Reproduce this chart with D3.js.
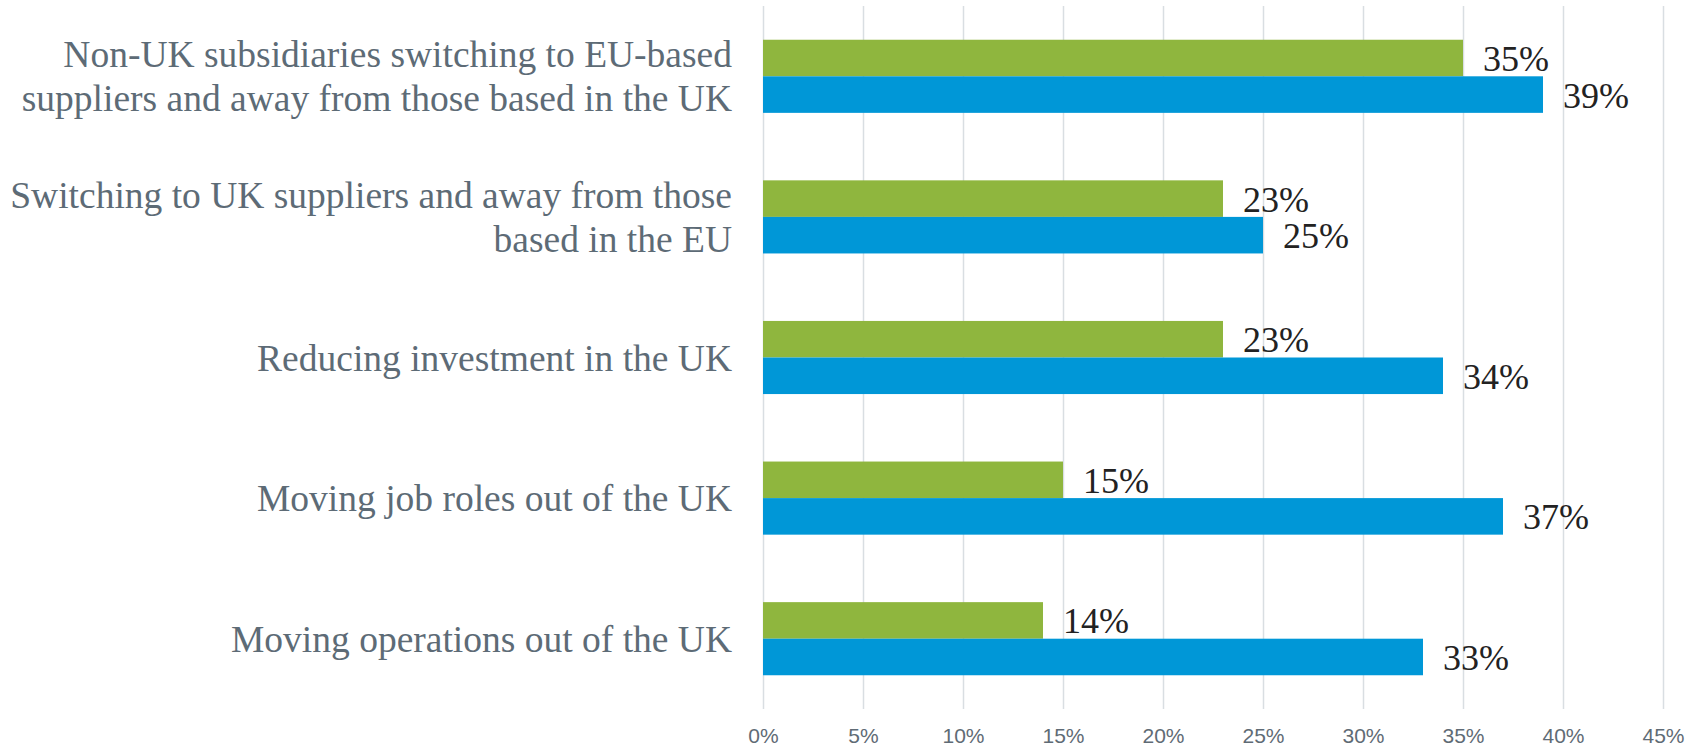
<!DOCTYPE html>
<html>
<head>
<meta charset="utf-8">
<script src="https://cdn.jsdelivr.net/npm/d3@7"></script>
<style>
  body { margin: 0; background: #fff; }
  svg { display: block; }
</style>
</head>
<body>
<div id="root"></div>
<script>
// categories, top to bottom (each entry = lines of the label)
var categories = [
    ["Non-UK subsidiaries switching to EU-based", "suppliers and away from those based in the UK"],
    ["Switching to UK suppliers and away from those", "based in the EU"],
    ["Reducing investment in the UK"],
    ["Moving job roles out of the UK"],
    ["Moving operations out of the UK"]
]
var seriesNames = ["green", "blue"]
var greenValues = [35, 23, 23, 15, 14]
var blueValues = [39, 25, 34, 37, 33]
var ticks = [0, 5, 10, 15, 20, 25, 30, 35, 40, 45]

var width = 1690
var height = 747
var colors = { green: "#8fb63e", blue: "#0097d7" }

var svg = d3.select("#root").append("svg")
    .attr("width", width)
    .attr("height", height)

var x = d3.scaleLinear().domain([0, 45]).range([763, 1663])
var y = d3.scaleBand()
    .domain(d3.range(categories.length))
    .range([6, 709])
    .paddingInner(0.48)
    .paddingOuter(0.24)
var ySub = d3.scaleBand()
    .domain(seriesNames)
    .range([0, y.bandwidth()])

// gridlines
svg.append("g").selectAll("line")
    .data(ticks)
    .enter().append("line")
    .attr("x1", function (d) { return Math.round(x(d)) + 0.5 })
    .attr("x2", function (d) { return Math.round(x(d)) + 0.5 })
    .attr("y1", 6)
    .attr("y2", 709)
    .attr("stroke", "#d9dee2")
    .attr("stroke-width", 1.5)

// x axis labels
var xAxis = d3.axisBottom(x).tickValues(ticks).tickSize(0).tickFormat(function (d) { return d + "%" })
var ax = svg.append("g").attr("transform", "translate(0,709)").call(xAxis)
ax.select(".domain").remove()
ax.selectAll("text")
    .attr("y", 34)
    .attr("dy", 0)
    .attr("fill", "#5f6b75")
    .style("font-family", "'Liberation Sans', Arial, sans-serif")
    .style("font-size", "21px")

// rows
var rows = categories.map(function (c, i) {
    return { i: i, label: c, green: greenValues[i], blue: blueValues[i] }
})

var groups = svg.append("g").selectAll("g")
    .data(rows)
    .enter().append("g")
    .attr("transform", function (d) { return "translate(0," + y(d.i) + ")" })

seriesNames.forEach(function (s) {
    groups.append("rect")
        .attr("x", x(0))
        .attr("y", ySub(s))
        .attr("width", function (d) { return x(d[s]) - x(0) })
        .attr("height", ySub.bandwidth())
        .attr("fill", colors[s])
    groups.append("text")
        .attr("x", function (d) { return x(d[s]) + 20 })
        .attr("y", ySub(s) + ySub.bandwidth() / 2)
        .attr("dy", "0.36em")
        .attr("fill", "#222")
        .style("font-family", "'Liberation Serif', 'Times New Roman', serif")
        .style("font-size", "36px")
        .text(function (d) { return d[s] + "%" })
})

// category labels
var lineH = 44
groups.append("text")
    .attr("text-anchor", "end")
    .attr("fill", "#5d6b76")
    .style("font-family", "'Liberation Serif', 'Times New Roman', serif")
    .style("font-size", "37.5px")
    .each(function (d) {
        var t = d3.select(this)
        var n = d.label.length
        d.label.forEach(function (line, k) {
            t.append("tspan")
                .attr("x", 732)
                .attr("y", y.bandwidth() / 2 + (k - (n - 1) / 2) * lineH)
                .attr("dy", "0.35em")
                .text(line)
        })
    })
</script>
</body>
</html>
